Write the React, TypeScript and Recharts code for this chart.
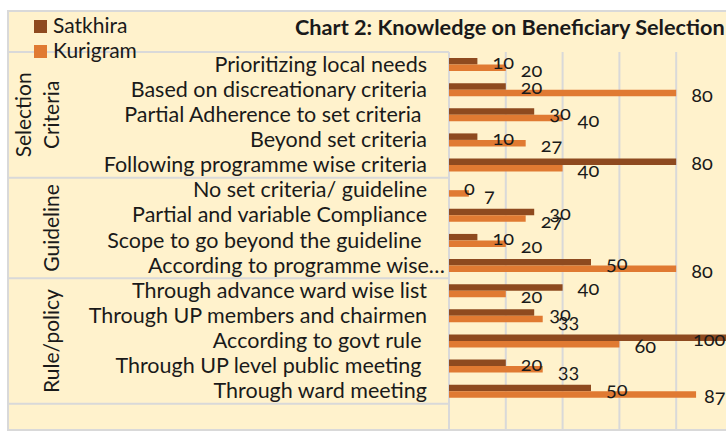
import { BarChart, Bar, XAxis, YAxis, CartesianGrid, LabelList, Legend, Customized } from "recharts";

const categories = [
  "Prioritizing local needs",
  "Based on discreationary criteria",
  "Partial Adherence to set criteria ",
  "Beyond set criteria",
  "Following programme wise criteria",
  "No set criteria/ guideline",
  "Partial and variable Compliance",
  "Scope to go beyond the guideline ",
  "According to programme wise…",
  "Through advance ward wise list",
  "Through UP members and chairmen",
  "According to govt rule ",
  "Through UP level public meeting ",
  "Through ward meeting",
  "",
];

const groups = [
  "Selection Criteria", "Selection Criteria", "Selection Criteria", "Selection Criteria", "Selection Criteria",
  "Guideline", "Guideline", "Guideline", "Guideline",
  "Rule/policy", "Rule/policy", "Rule/policy", "Rule/policy", "Rule/policy",
  "",
];

const satkhira = [10, 20, 30, 10, 80, 0, 30, 10, 50, 40, 30, 100, 20, 50, null];
const kurigram = [20, 80, 40, 27, 40, 7, 27, 20, 80, 20, 33, 60, 33, 87, null];

const data = categories.map((name, i) => ({
  name,
  group: groups[i],
  satkhira: satkhira[i],
  kurigram: kurigram[i],
}));

const FONT = "Lato, 'Open Sans', sans-serif";
const CHART_W = 724;
const CHART_H = 417;
const TOP = 40;
const AXIS_W = 440;
const VISIBLE_RIGHT = 717; // the frame is cut off here
const BAND = (CHART_H - TOP) / categories.length;
const GRID = "#D9D9D9";
const DARK = "#8E4A1F";
const ORANGE = "#E07A32";
const INK = "#1a1a1a";

// category label + group column drawn from the y axis ticks
const CategoryTick = (props: any) => {
  const { payload, index } = props;
  const y = payload.coordinate;
  const label = categories[index];
  const g = groups[index];
  const first = index === 0 || groups[index - 1] !== g;
  let groupEl = null;
  if (first) {
    const n = groups.filter((v) => v === g).length;
    const cy = y + ((n - 1) / 2) * BAND;
    const lines = g ? g.split(" ") : [];
    groupEl = (
      <g>
        <line x1={0} x2={AXIS_W} y1={y - BAND / 2} y2={y - BAND / 2} stroke={GRID} strokeWidth={2} />
        {lines.map((t, k) => {
          const cx = 41.5 - (lines.length - 1 - k) * 27.5;
          return (
            <text key={k} x={cx} y={cy} transform={`rotate(-90 ${cx} ${cy})`} textAnchor="middle"
              dominantBaseline="central" fontSize={21} fontFamily={FONT} fill={INK}>
              {t}
            </text>
          );
        })}
      </g>
    );
  }
  const ell = label.endsWith("…");
  return (
    <g>
      {groupEl}
      <text x={ell ? 436 : 418} y={y + 7} textAnchor="end" fontSize={21.5} fontFamily={FONT}
        fill={INK} style={{ whiteSpace: "pre" }}>
        {label}
      </text>
    </g>
  );
};

// outside-end labels, pushed back inside when they would run past the edge
const makeLabel = (dy: number) => (props: any) => {
  const { x, y, width, height, value } = props;
  if (value == null) return null;
  const end = x + (width || 0);
  const lx = Math.min(end + 15, VISIBLE_RIGHT - String(value).length * 11);
  return (
    <text x={lx} y={y + height / 2 + dy} fontSize={20} fontFamily={FONT} fill={INK}
      style={{ fontVariantNumeric: "oldstyle-nums" }}>
      {value}
    </text>
  );
};

const LegendBox = () => (
  <svg width={160} height={52}>
    <rect x={25} y={8} width={13} height={13} fill={DARK} />
    <text x={44} y={21} fontSize={21} fontFamily={FONT} fill={INK}>Satkhira</text>
    <rect x={25} y={33} width={13} height={13} fill={ORANGE} />
    <text x={44} y={46} fontSize={21} fontFamily={FONT} fill={INK}>Kurigram</text>
  </svg>
);

const Title = () => (
  <text x={286} y={23} fontSize={21.7} fontWeight="bold" fontFamily={FONT} fill={INK}>
    Chart 2: Knowledge on Beneficiary Selection
  </text>
);

export default function App() {
  return (
    <div style={{ position: "absolute", left: 7, top: 10, width: 719, height: 421, overflow: "hidden" }}>
      <div style={{ width: 760, height: 421, boxSizing: "border-box", border: `2px solid ${GRID}`, background: "#FFF2CC", position: "relative" }}>
        <BarChart width={CHART_W} height={CHART_H} data={data} layout="vertical"
          margin={{ top: TOP, right: 0, bottom: 0, left: 0 }} barGap={0}>
          <CartesianGrid horizontal={false} stroke={GRID} strokeWidth={2} />
          <XAxis type="number" domain={[0, 100]} ticks={[0, 20, 40, 60, 80, 100]} hide />
          <YAxis type="category" dataKey="name" width={AXIS_W} interval={0} axisLine={false}
            tickLine={false} tick={<CategoryTick />} />
          <Legend layout="vertical" align="center" verticalAlign="middle"
            wrapperStyle={{ left: 0, top: 0, width: 160, height: 52 }} content={<LegendBox />} />
          <Customized component={<Title />} />
          <Bar dataKey="satkhira" name="Satkhira" fill={DARK} barSize={6.5} minPointSize={0.01} isAnimationActive={false}>
            <LabelList dataKey="satkhira" content={makeLabel(8)} />
          </Bar>
          <Bar dataKey="kurigram" name="Kurigram" fill={ORANGE} barSize={6.5} isAnimationActive={false}>
            <LabelList dataKey="kurigram" content={makeLabel(9)} />
          </Bar>
        </BarChart>
      </div>
    </div>
  );
}
